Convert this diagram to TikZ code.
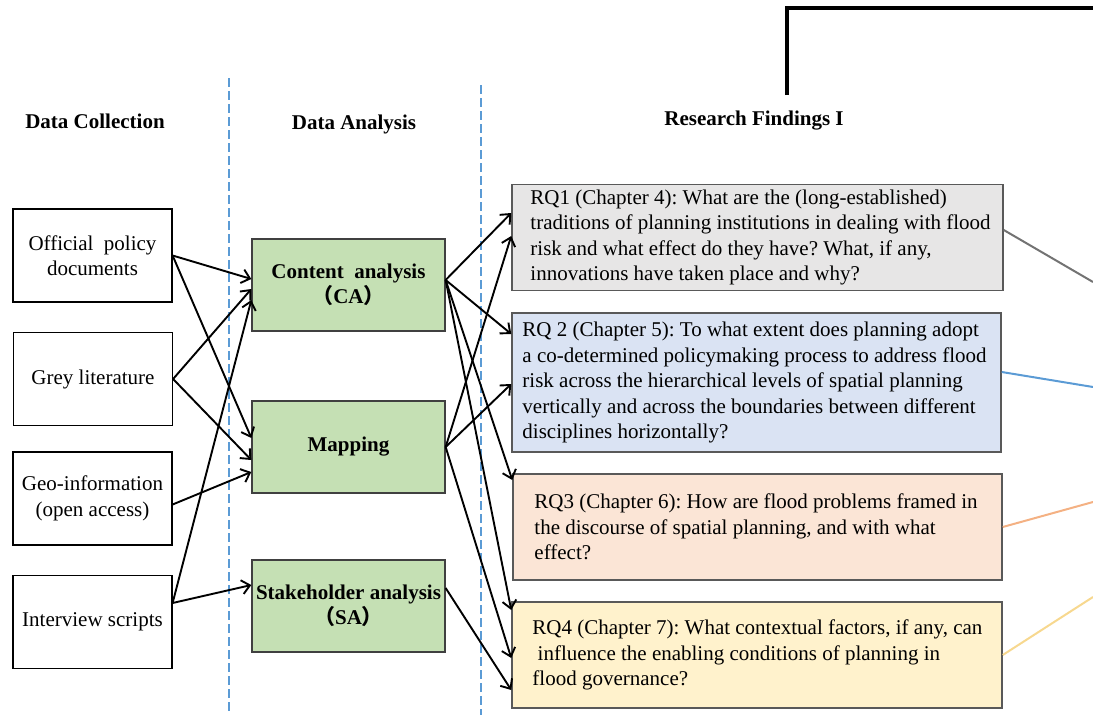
\documentclass[tikz,border=0pt]{standalone}
\usepackage{fontspec}
\setmainfont{Liberation Serif}
\newfontfamily\cjk{Noto Sans CJK SC}
\usepackage{xcolor}
\usetikzlibrary{arrows.meta,positioning}
\frenchspacing

\definecolor{anagreen}{HTML}{C5E0B4}
\definecolor{rqgrey}{HTML}{E7E6E6}
\definecolor{rqblue}{HTML}{DAE3F3}
\definecolor{rqpeach}{HTML}{FBE5D6}
\definecolor{rqcream}{HTML}{FFF2CC}
\definecolor{sepblue}{HTML}{5B9BD5}
\definecolor{lnorange}{HTML}{F4B183}
\definecolor{lngold}{HTML}{F7D88F}

\begin{document}
\begin{tikzpicture}[x=1pt,y=-1pt,
  every node/.style={font=\fontsize{21}{25.5}\selectfont, inner sep=0pt},
  head/.style={font=\fontsize{21}{25.5}\selectfont\bfseries},
  srcbox/.style={draw=black, line width=1.2pt, minimum width=159pt, minimum height=93pt, align=center},
  anabox/.style={draw=black!75, fill=anagreen, line width=1.3pt, minimum width=193pt,
    minimum height=92pt, align=center, font=\fontsize{21}{25.5}\selectfont\bfseries},
  rqbox/.style={draw=black!65, line width=1.5pt, minimum height=106pt},
  rqtext/.style={anchor=west, align=left},
  flow/.style={-{Straight Barb[length=8pt,width=14pt]}, line width=1.9pt},
  sepline/.style={sepblue, line width=1.2pt, dash pattern=on 9pt off 4pt},
  outline/.style={line width=2pt}]
\useasboundingbox (0,0) rectangle (1093,715);

% column heads
\node[head] (hdc) at (95,121) {Data Collection};
\node[head] (hda) at (354,124) {Data Analysis};
\node[head] (hrf) at (754,121) {Research Findings I};

% separators
\draw[sepline] (229,78) -- (229,712);
\draw[sepline] (481,85) -- (481,715);

% frame going off to the right
\coordinate (fa) at (787,95);
\coordinate (fb) at (787,8);
\coordinate (fc) at (1093,8);
\draw[line width=3.5pt] (fa) -- (fb) -- (fc);

% data collection
\node[srcbox] (opd) at (92.5,255.5) {Official~~policy\\documents};
\node[srcbox] (grl) at (93,379) {Grey literature};
\node[srcbox] (geo) at (92.5,498.5) {Geo-information\\(open access)};
\node[srcbox] (ivs) at (92.5,622) {Interview scripts};

% data analysis
\node[anabox] (ca) at (348.5,285) {Content~~analysis\\{\cjk （}CA{\cjk ）}};
\node[anabox] (map) at (348.5,447) {Mapping};
\node[anabox] (sa) at (348.5,606) {Stakeholder analysis\\{\cjk （}SA{\cjk ）}};

% research questions
\node[rqbox, fill=rqgrey, minimum width=491pt] (rq1) at (757.5,237.5) {};
\node[rqtext] (rq1t) at ([xshift=19pt]rq1.west) {RQ1 (Chapter 4): What are the (long-established)\\traditions of planning institutions in dealing with flood\\risk and what effect do they have? What, if any,\\innovations have taken place and why?};
\node[rqbox, fill=rqblue, minimum width=489pt, minimum height=139pt] (rq2) at (756.5,382.5) {};
\node[rqtext] (rq2t) at ([xshift=11pt]rq2.west) {RQ 2 (Chapter 5): To what extent does planning adopt\\a co-determined policymaking process to address flood\\risk across the hierarchical levels of spatial planning\\vertically and across the boundaries between different\\disciplines horizontally?};
\node[rqbox, fill=rqpeach, minimum width=489pt] (rq3) at (757.5,527) {};
\node[rqtext] (rq3t) at ([xshift=22pt]rq3.west) {RQ3 (Chapter 6): How are flood problems framed in\\the discourse of spatial planning, and with what\\effect?};
\node[rqbox, fill=rqcream, minimum width=490pt] (rq4) at (757,655) {};
\node[rqtext] (rq4t) at ([xshift=21pt]rq4.west) {RQ4 (Chapter 7): What contextual factors, if any, can\\\ influence the enabling conditions of planning in\\flood governance?};

% collection -> analysis
\coordinate (geoout) at ([yshift=-6pt]geo.east);
\coordinate (ivsout) at ([yshift=19pt]ivs.east);
\draw[flow] (opd.east) -- ([yshift=6pt]ca.west);
\draw[flow] (opd.east) -- ([yshift=9pt]map.west);
\draw[flow] (grl.east) -- ([yshift=-4pt]ca.west);
\draw[flow] (grl.east) -- ([yshift=-13pt]map.west);
\draw[flow] (geoout) -- ([yshift=-25pt]map.west);
\draw[flow] (ivsout) -- ([yshift=-15pt]ca.west);
\draw[flow] (ivsout) -- ([yshift=21pt]sa.west);

% analysis -> findings
\coordinate (caout) at ([yshift=5pt]ca.east);
\coordinate (saout) at ([yshift=18pt]sa.east);
\draw[flow] (caout) -- ([yshift=24.5pt]rq1.west);
\draw[flow] (caout) -- ([yshift=48.5pt]rq2.west);
\draw[flow] (caout) -- ([yshift=47pt]rq3.west);
\draw[flow] (caout) -- ([yshift=45pt]rq4.west);
\draw[flow] (map.east) -- ([yshift=1.5pt]rq1.west);
\draw[flow] (map.east) -- ([yshift=-1.5pt]rq2.west);
\draw[flow] (map.east) -- ([yshift=-3pt]rq4.west);
\draw[flow] (saout) -- ([yshift=-35pt]rq4.west);

% links out to the right
\coordinate (g1) at (1093,282);
\coordinate (g2) at (1093,387);
\coordinate (g3) at (1093,502);
\coordinate (g4) at (1093,597);
\draw[outline, black!55] ([yshift=7.5pt]rq1.east) -- (g1);
\draw[outline, sepblue] ([yshift=10.5pt]rq2.east) -- (g2);
\draw[outline, lnorange] (rq3.east) -- (g3);
\draw[outline, lngold] (rq4.east) -- (g4);
\end{tikzpicture}
\end{document}
